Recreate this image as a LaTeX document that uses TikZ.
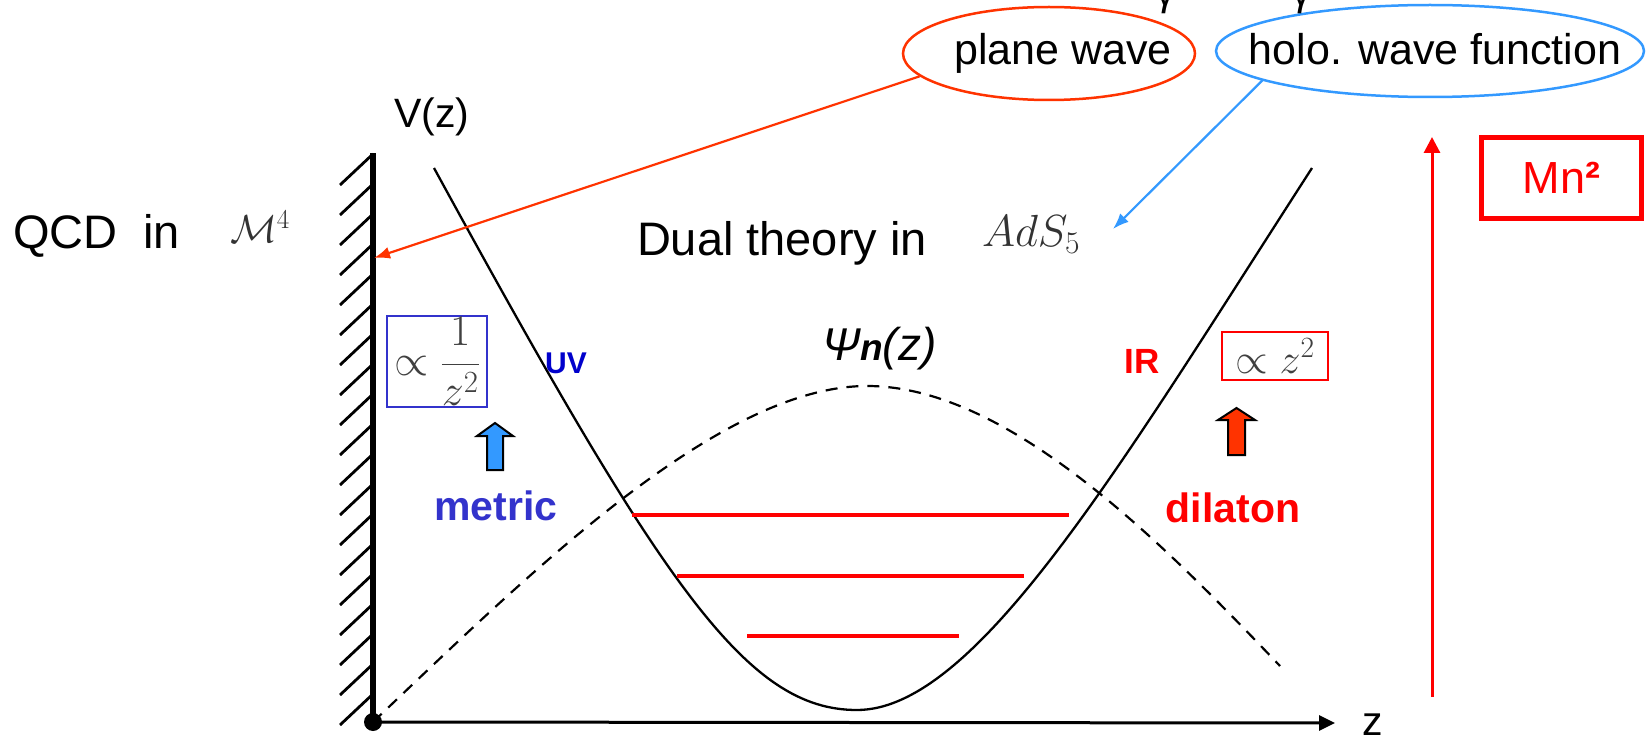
\RequirePackage{fix-cm}
\documentclass[tikz,border=0pt]{standalone}
\usepackage{fontspec}
\setmainfont{Liberation Sans}
\usetikzlibrary{arrows.meta,shapes.geometric}
\definecolor{orred}{RGB}{255,51,0}
\definecolor{lblue}{RGB}{51,153,255}
\definecolor{dblue}{RGB}{0,0,204}
\definecolor{mblue}{RGB}{51,51,204}
\definecolor{pred}{RGB}{255,0,0}
\newcommand\fsz[1]{\fontsize{#1}{#1}\selectfont}
\tikzset{
  txt/.style={inner sep=0pt, outer sep=0pt},
  mathgray/.style={txt, text=black!80},
  potential/.style={line width=2.3pt, black},
  wavefn/.style={line width=2.2pt, black, dash pattern=on 12pt off 9pt},
  level/.style={line width=3.5pt, pred},
  hatch/.style={line width=2.8pt, black},
  bubble/.style={ellipse, draw, line width=2.5pt, inner sep=0pt},
  pointer/.style={line width=2.2pt, -{Latex[length=16pt,width=12pt]}},
  blockarrow/.style={draw=black, line width=2pt, line join=miter},
  mathbox/.style={line width=2pt, inner sep=0pt, text=black!75},
}
\begin{document}
\begin{tikzpicture}[x=1pt,y=-1pt]
\useasboundingbox (0,0) rectangle (1647,738);

% wall and axes
\coordinate (O) at (373,722);
\coordinate (walltop) at (373,153);
\coordinate (zend) at (1335,723);
\foreach \k in {0,...,18}{
  \draw[hatch] (340,185+30*\k) -- (373,154+30*\k);
}
\draw[line width=6pt] (O) -- (walltop);
\draw[line width=3pt, -{Triangle[length=16pt,width=15pt]}] (O) -- (zend);
\fill (O) circle (9);

% potential
\draw[potential] (434,168) .. controls (664,589) and (747,710) .. (857,710)
                 .. controls (977,710) and (1122,462.5) .. (1312,168);
% wave function
\draw[wavefn] (O) .. controls (523,580) and (717,386) .. (867,386)
              .. controls (1007,386) and (1160,540) .. (1280,666);

% levels
\draw[level] (632,515) -- (1069,515);
\draw[level] (677,576) -- (1024,576);
\draw[level] (747,636) -- (959,636);

% labels
\node[txt, anchor=base west, font=\fsz{47}] (qcd) at (13,248) {QCD\ \ in};
\node[mathgray, anchor=base west, font=\fsz{39}] (m4) at (230,243) {$\mathcal{M}^4$};
\node[txt, anchor=base, font=\fsz{41}] (vz) at (432,128) {V(z)};
\node[txt, anchor=base west, font=\fsz{41}] (zl) at (1362,735) {z};
\node[txt, anchor=base west, font=\fsz{47}] (dual) at (637,255) {Dual theory in};
\node[mathgray, anchor=base west, font=\fsz{45}] (ads) at (982,247) {$AdS_5$};
\node[txt, anchor=base west, font=\fsz{46}\itshape] (psi) at (822,360) {Ψ{\fsz{37}\bfseries n}(z)};

\node[txt, anchor=base, font=\fsz{30}\bfseries, text=dblue] (uv) at (566,373) {UV};
\node[txt, anchor=base, font=\fsz{35}\bfseries, text=pred] (ir) at (1142,373) {IR};
\node[txt, anchor=base, font=\fsz{41}\bfseries, text=mblue] (metric) at (496,520) {metric};
\node[txt, anchor=base, font=\fsz{41}\bfseries, text=pred] (dilaton) at (1233,522) {dilaton};

% boxes
\node[mathbox, draw=mblue, minimum width=100, minimum height=91, font=\fsz{44}] (uvbox) at (437,361.5) {$\propto\displaystyle\frac{1}{z^2}$};
\node[mathbox, draw=pred, minimum width=106, minimum height=48, font=\fsz{42}] (irbox) at (1275,356) {$\propto z^2$};
\node[draw=pred, line width=5pt, minimum width=160, minimum height=81, inner sep=0pt, text=pred, font=\fsz{45}] (mn) at (1561.5,178) {Mn{\bfseries ²}};

% block arrows
\filldraw[blockarrow, fill=lblue] (487,470) -- (487,436) -- (477,436) -- (495,423) -- (513,436) -- (503,436) -- (503,470) -- cycle;
\filldraw[blockarrow, fill=orred] (1228,455) -- (1228,420) -- (1218,420) -- (1236.5,408) -- (1255,420) -- (1245,420) -- (1245,455) -- cycle;

% mass arrow
\coordinate (mb) at (1432,697);
\coordinate (mt) at (1432,137);
\draw[line width=3pt, pred, -{Triangle[length=16pt,width=16pt]}] (mb) -- (mt);

% bubbles
\node[bubble, draw=orred, minimum width=292, minimum height=93] (pw) at (1049,53.5) {};
\node[bubble, draw=lblue, minimum width=428, minimum height=92] (holo) at (1430,51) {};
\node[txt, anchor=base, font=\fsz{43}] (pwt) at (1063,65) {plane wave};
\node[txt, anchor=base, font=\fsz{43}] (holot) at (1435,65) {holo. wave function};
\node[txt, anchor=base, font=\fsz{40}] (g1) at (1165,6) {γ};
\node[txt, anchor=base, font=\fsz{40}] (g2) at (1301,6) {γ};

\coordinate (walltip) at (374,258);
\coordinate (adstip) at (1113,229);
\draw[pointer, orred] (pw.190) -- (walltip);
\draw[pointer, lblue] (holo.190) -- (adstip);
\end{tikzpicture}
\end{document}
